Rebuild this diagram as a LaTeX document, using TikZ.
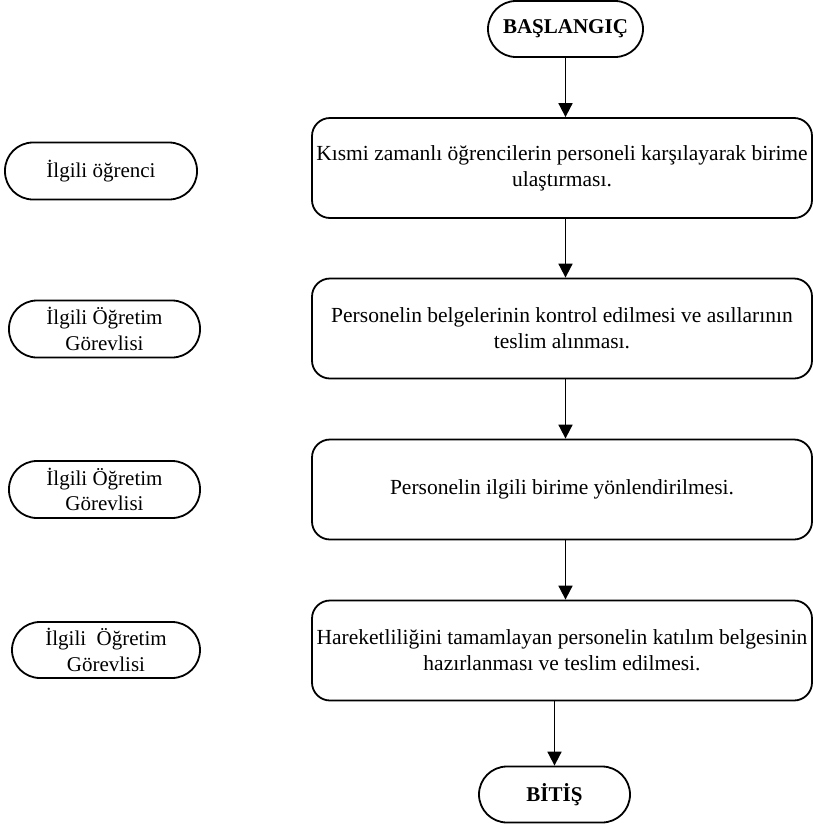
\documentclass[tikz,border=0pt]{standalone}
\usepackage{fontspec}
\setmainfont{Liberation Serif}
\usetikzlibrary{arrows.meta}
\begin{document}
\begin{tikzpicture}[x=1pt,y=-1pt,
  every node/.style={font=\fontsize{21}{25.5}\selectfont, align=center, inner sep=0pt},
  term/.style={draw, line width=1.8pt, rounded corners=28pt, minimum height=56pt},
  side/.style={draw, line width=1.8pt, rounded corners=28pt, minimum height=57pt},
  procbox/.style={draw, line width=1.8pt, rounded corners=18pt, minimum width=500pt, minimum height=100pt, font=\fontsize{21.5}{26}\selectfont},
  flow/.style={line width=1.8pt, -{Triangle[width=14pt,length=14pt]}}
]
\useasboundingbox (0,0) rectangle (813,825);

\node[term, minimum width=155pt, font=\fontsize{21}{25.5}\selectfont\bfseries] (start) at (565.5,29) {BAŞLANGIÇ};
\node[procbox] (b1) at (562,168) {Kısmi zamanlı öğrencilerin personeli karşılayarak birime\\ulaştırması.};
\node[procbox] (b2) at (562,328.5) {Personelin belgelerinin kontrol edilmesi ve asıllarının\\teslim alınması.};
\node[procbox] (b3) at (562,489.5) {Personelin ilgili birime yönlendirilmesi.};
\node[procbox] (b4) at (562,650.5) {Hareketliliğini tamamlayan personelin katılım belgesinin\\hazırlanması ve teslim edilmesi.};
\node[term, minimum width=151pt, font=\fontsize{21}{25.5}\selectfont\bfseries] (end) at (554.5,794.5) {BİTİŞ};

\node[side, minimum width=192pt] (r1) at (101,171) {İlgili öğrenci};
\node[side, minimum width=191pt] (r2) at (104.5,329) {İlgili Öğretim\\Görevlisi};
\node[side, minimum width=191pt] (r3) at (104.5,489.5) {İlgili Öğretim\\Görevlisi};
\node[side, minimum width=188pt, minimum height=56pt] (r4) at (106,650) {İlgili\ \ Öğretim\\Görevlisi};

\draw[flow] (start.south) -- (b1.north -| start.south);
\draw[flow] (b1.south -| start.south) -- (b2.north -| start.south);
\draw[flow] (b2.south -| start.south) -- (b3.north -| start.south);
\draw[flow] (b3.south -| start.south) -- (b4.north -| start.south);
\draw[flow] (b4.south -| end.north) -- (end.north);
\end{tikzpicture}
\end{document}
